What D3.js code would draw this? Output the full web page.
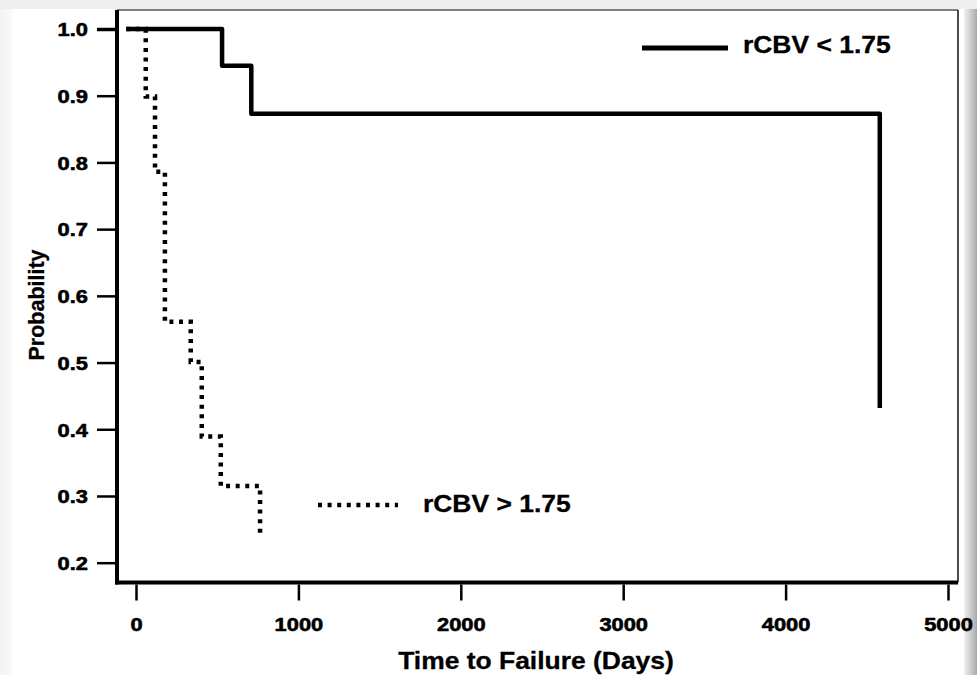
<!DOCTYPE html>
<html>
<head>
<meta charset="utf-8">
<script src="https://cdn.jsdelivr.net/npm/d3@7"></script>
<style>
  html, body { margin: 0; padding: 0; background: #efefef; }
  svg { display: block; }
  text { font-family: "Liberation Sans", Arial, Helvetica, sans-serif; fill: #000; }
  .heavy { stroke: #000; stroke-width: 0.6px; }
  .medium { stroke: #000; stroke-width: 0.3px; }
</style>
</head>
<body>
<svg id="chart" width="977" height="675"></svg>
<script>
// ---- data ----
const lowTimes = [-60, 530, 710, 4580];
const lowSurv  = [1.0, 0.945, 0.873, 0.432];
const highTimes = [-60, 60, 117, 178, 337, 405, 522, 764];
const highSurv  = [1.0, 0.899, 0.786, 0.561, 0.501, 0.389, 0.315, 0.245];
const xTicks = [0, 1000, 2000, 3000, 4000, 5000];
const yTicks = [0.2, 0.3, 0.4, 0.5, 0.6, 0.7, 0.8, 0.9, 1.0];
const seriesLabels = ["rCBV < 1.75", "rCBV > 1.75"];
const xTitle = "Time to Failure (Days)";
const yTitle = "Probability";

// ---- layout ----
const W = 977, H = 675;
const box = { left: 117, right: 958, top: 10, bottom: 582.5 };
const STRETCH = 1.15;

const svg = d3.select("#chart");

// background / panel with shadow
const defs = svg.append("defs");
const g1 = defs.append("linearGradient").attr("id", "shadowR").attr("x1", 0).attr("x2", 1).attr("y1", 0).attr("y2", 0);
g1.append("stop").attr("offset", "0%").attr("stop-color", "#f2f2f2");
g1.append("stop").attr("offset", "100%").attr("stop-color", "#a9a9a9");
const g2 = defs.append("linearGradient").attr("id", "shadowL").attr("x1", 0).attr("x2", 1).attr("y1", 0).attr("y2", 0);
g2.append("stop").attr("offset", "0%").attr("stop-color", "#f3f3f3");
g2.append("stop").attr("offset", "100%").attr("stop-color", "#f9f9f9");

svg.append("rect").attr("x", 0).attr("y", 0).attr("width", W).attr("height", H).attr("fill", "#efefef");
svg.append("rect").attr("x", 0).attr("y", 9).attr("width", 12).attr("height", H - 9).attr("fill", "url(#shadowL)");
svg.append("rect").attr("x", 12).attr("y", 9).attr("width", 952).attr("height", H - 9).attr("fill", "#ffffff");
svg.append("rect").attr("x", 964).attr("y", 9).attr("width", 13).attr("height", H - 9).attr("fill", "url(#shadowR)");

// scales
const x = d3.scaleLinear().domain([0, 5000]).range([136, 948]);
const y = d3.scaleLinear().domain([0.2, 1.0]).range([562.7, 29]);

// box borders (thin top/right)
svg.append("line").attr("x1", box.left).attr("x2", box.right).attr("y1", box.top).attr("y2", box.top)
  .attr("stroke", "#555").attr("stroke-width", 1.5);
svg.append("line").attr("x1", box.right).attr("x2", box.right).attr("y1", box.top).attr("y2", box.bottom)
  .attr("stroke", "#111").attr("stroke-width", 1.5);

// y axis
const yAxis = d3.axisLeft(y).tickValues(yTicks).tickFormat(d3.format(".1f")).tickSize(18).tickPadding(9);
const gy = svg.append("g").attr("transform", `translate(${box.left - 2},0)`).call(yAxis);
gy.select(".domain").remove();
gy.selectAll(".tick line").attr("stroke", "#000").attr("stroke-width", d => d === 1.0 ? 3.5 : 2.5);
gy.selectAll(".tick text")
  .attr("class", "heavy")
  .attr("x", -27 / STRETCH)
  .attr("dy", "0.36em")
  .attr("transform", `scale(${STRETCH},1)`)
  .style("font-size", "19px").style("font-weight", "bold");

// x axis
const xAxis = d3.axisBottom(x).tickValues(xTicks).tickFormat(d3.format("d")).tickSize(16);
const gx = svg.append("g").attr("transform", `translate(0,${box.bottom + 2})`).call(xAxis);
gx.select(".domain").remove();
gx.selectAll(".tick line").attr("stroke", "#000").attr("stroke-width", 2.5);
gx.selectAll(".tick text")
  .attr("class", "heavy")
  .attr("y", 47).attr("dy", 0)
  .attr("transform", `scale(${STRETCH},1)`)
  .style("font-size", "19px").style("font-weight", "bold");

// thick axis lines
svg.append("line").attr("x1", box.left).attr("x2", box.left).attr("y1", box.top).attr("y2", box.bottom + 2)
  .attr("stroke", "#000").attr("stroke-width", 4);
svg.append("line").attr("x1", box.left - 2).attr("x2", box.right).attr("y1", box.bottom).attr("y2", box.bottom)
  .attr("stroke", "#000").attr("stroke-width", 4);

// curves
const lineGen = d3.line().x(d => x(d[0])).y(d => y(d[1])).curve(d3.curveStepAfter);
const highData = highTimes.map((t, i) => [t, highSurv[i]]);
const lowData = lowTimes.map((t, i) => [t, lowSurv[i]]);

svg.append("path").datum(highData).attr("d", lineGen)
  .attr("fill", "none").attr("stroke", "#000").attr("stroke-width", 4.5)
  .attr("stroke-dasharray", "4 5.6");
svg.append("path").datum(lowData).attr("d", lineGen)
  .attr("fill", "none").attr("stroke", "#000").attr("stroke-width", 4.5)
  .attr("stroke-linejoin", "round");

// legends
svg.append("line").attr("x1", 642).attr("x2", 728).attr("y1", 48).attr("y2", 48)
  .attr("stroke", "#000").attr("stroke-width", 5);
svg.append("text").attr("class", "medium").attr("x", 743 / STRETCH).attr("y", 53).attr("transform", `scale(${STRETCH},1)`)
  .style("font-size", "23px").style("font-weight", "bold").text(seriesLabels[0]);

svg.append("line").attr("x1", 318).attr("x2", 398).attr("y1", 505).attr("y2", 505)
  .attr("stroke", "#000").attr("stroke-width", 4.5).attr("stroke-dasharray", "4 5.6");
svg.append("text").attr("class", "medium").attr("x", 423 / STRETCH).attr("y", 512).attr("transform", `scale(${STRETCH},1)`)
  .style("font-size", "23px").style("font-weight", "bold").text(seriesLabels[1]);

// axis titles
svg.append("text").attr("class", "medium").attr("x", 536 / STRETCH).attr("y", 669).attr("text-anchor", "middle")
  .attr("transform", `scale(${STRETCH},1)`)
  .style("font-size", "23px").style("font-weight", "bold").text(xTitle);
svg.append("text").attr("class", "medium").attr("transform", "translate(44,305) rotate(-90)").attr("text-anchor", "middle")
  .style("font-size", "21.5px").style("font-weight", "bold").text(yTitle);
</script>
</body>
</html>
